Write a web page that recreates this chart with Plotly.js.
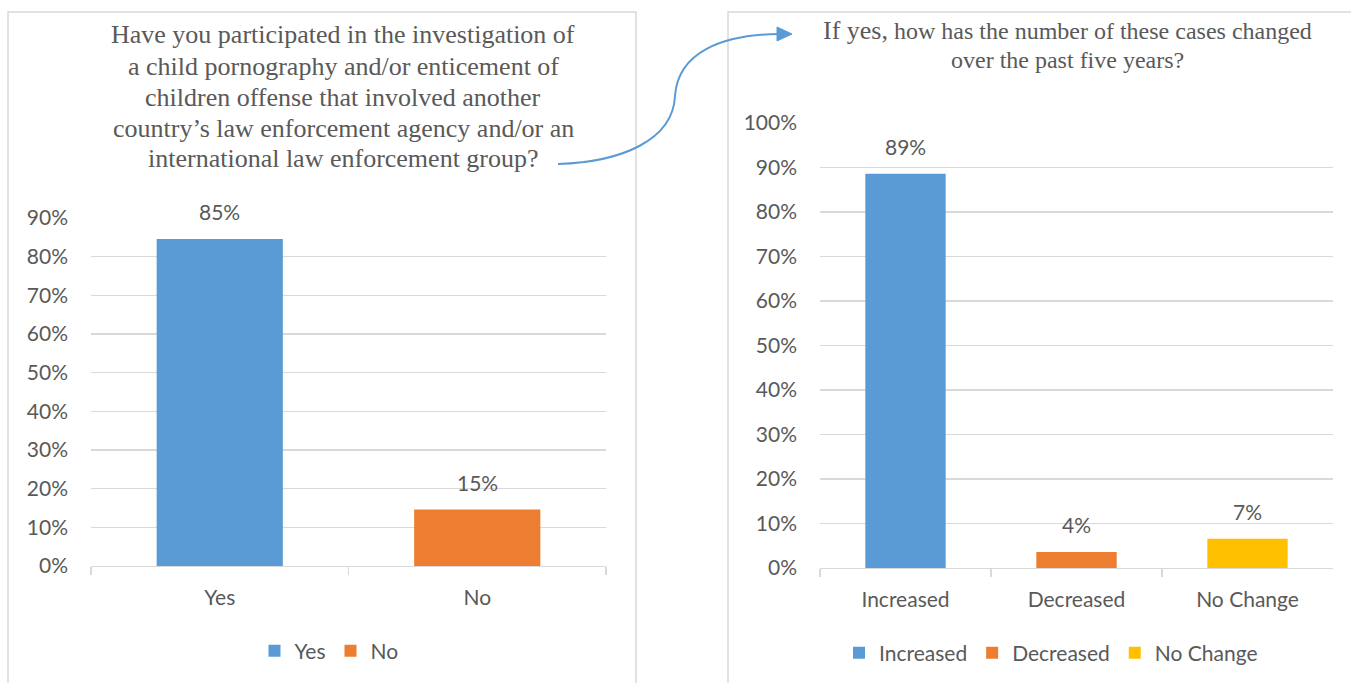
<!DOCTYPE html>
<html>
<head>
<meta charset="utf-8">
<script src="https://cdn.plot.ly/plotly-3.0.1.min.js"></script>
<style>html,body{margin:0;padding:0;background:#fff;}#chart{width:1351px;height:683px;}</style>
</head>
<body>
<div id="chart"></div>
<script>
// ---- data ----
const leftCategories = ["Yes", "No"];
const leftValues = [0.846, 0.146];
const rightCategories = ["Increased", "Decreased", "No Change"];
const rightValues = [0.886, 0.036, 0.066];
const leftColors = ["#5B9BD5", "#ED7D31"];
const rightColors = ["#5B9BD5", "#ED7D31", "#FFC000"];
const leftTitleLines = [
  "Have you participated in the investigation of",
  "a child pornography and/or enticement of",
  "children offense that involved another",
  "country’s law enforcement agency and/or an",
  "international law enforcement group?"
];
const rightTitleLines = [
  "<span style=\"font-size:26px\">If yes,</span> how has the number of these cases changed",
  "over the past five years?"
];

const W = 1351, H = 683;
const px = x => x / W;
const py = y => 1 - y / H;
const gray = "#595959";
const grid = "#D9D9D9";
const tickFont = {family: "Lato, 'Noto Sans', sans-serif", size: 21, color: gray};
const serif = "'Liberation Serif', 'Times New Roman', serif";

const traces = [];
leftCategories.forEach((c, i) => traces.push({
  type: "bar", x: [c], y: [leftValues[i]], name: c, xaxis: "x", yaxis: "y",
  marker: {color: leftColors[i]}, width: 0.49, legend: "legend", hoverinfo: "skip"
}));
rightCategories.forEach((c, i) => traces.push({
  type: "bar", x: [c], y: [rightValues[i]], name: c, xaxis: "x2", yaxis: "y2",
  marker: {color: rightColors[i]}, width: 0.47, legend: "legend2", hoverinfo: "skip"
}));

const annotations = [];
leftCategories.forEach((c, i) => annotations.push({
  xref: "x", yref: "y", x: c, y: leftValues[i], text: Math.round(leftValues[i] * 100) + "%",
  showarrow: false, yanchor: "bottom", yshift: 13, font: tickFont
}));
rightCategories.forEach((c, i) => annotations.push({
  xref: "x2", yref: "y2", x: c, y: rightValues[i], text: Math.round(rightValues[i] * 100) + "%",
  showarrow: false, yanchor: "bottom", yshift: 13, font: tickFont
}));
leftTitleLines.forEach((t, i) => annotations.push({
  xref: "paper", yref: "paper", x: px(343), y: py(35 + i * 31), xanchor: "center", yanchor: "middle",
  text: t, showarrow: false, font: {family: serif, size: 26, color: gray}
}));
rightTitleLines.forEach((t, i) => annotations.push({
  xref: "paper", yref: "paper", x: px(1067), y: py(31 + i * 29), xanchor: "center", yanchor: "middle",
  text: t, showarrow: false, font: {family: serif, size: 24, color: gray}
}));

// curved arrow path (pixel -> paper)
function P(x, y) { return px(x) + "," + py(y); }
const curve = "M" + P(558, 164) + " C" + P(622, 162) + " " + P(673, 140) + " " + P(675, 96) +
  " C" + P(678, 52) + " " + P(722, 35) + " " + P(778, 34);
const head = "M" + P(777, 27) + " L" + P(792, 34) + " L" + P(777, 41) + " Z";

const shapes = [
  {type: "rect", xref: "paper", yref: "paper", x0: px(8), x1: px(636), y0: py(700), y1: py(12),
   line: {color: grid, width: 1.5}, fillcolor: "rgba(0,0,0,0)", layer: "below"},
  {type: "rect", xref: "paper", yref: "paper", x0: px(728), x1: px(1380), y0: py(700), y1: py(12),
   line: {color: grid, width: 1.5}, fillcolor: "rgba(0,0,0,0)", layer: "below"},
  {type: "path", xref: "paper", yref: "paper", path: curve, line: {color: "#5B9BD5", width: 2}},
  {type: "path", xref: "paper", yref: "paper", path: head, line: {color: "#5B9BD5", width: 1}, fillcolor: "#5B9BD5"}
];

const xaxisBase = {
  type: "category", showline: true, linecolor: grid, linewidth: 1.3, ticks: "outside",
  tickson: "boundaries", ticklen: 8, tickcolor: grid, tickwidth: 1.3, showgrid: false,
  tickfont: tickFont, ticklabelstandoff: 12, fixedrange: true, zeroline: false
};
const yaxisBase = {
  showgrid: true, gridcolor: grid, gridwidth: 1.3, tickformat: ".0%", dtick: 0.1,
  tickfont: tickFont, showline: false, zeroline: false, ticks: "", ticklabelstandoff: 22,
  fixedrange: true
};

const layout = {
  width: W, height: H, margin: {l: 0, r: 0, t: 0, b: 0},
  paper_bgcolor: "#fff", plot_bgcolor: "rgba(0,0,0,0)",
  barmode: "overlay", showlegend: true,
  xaxis: Object.assign({}, xaxisBase, {domain: [px(91), px(606)], anchor: "y"}),
  yaxis: Object.assign({}, yaxisBase, {domain: [py(566), py(218)], range: [0, 0.9], anchor: "x"}),
  xaxis2: Object.assign({}, xaxisBase, {domain: [px(820), px(1333)], anchor: "y2"}),
  yaxis2: Object.assign({}, yaxisBase, {domain: [py(568), py(123)], range: [0, 1], anchor: "x2"}),
  legend: {orientation: "h", x: px(329), xanchor: "center", y: py(651), yanchor: "middle",
    font: tickFont, bgcolor: "rgba(0,0,0,0)", itemclick: false, itemdoubleclick: false},
  legend2: {orientation: "h", x: px(1051), xanchor: "center", y: py(653), yanchor: "middle",
    font: tickFont, bgcolor: "rgba(0,0,0,0)", itemclick: false, itemdoubleclick: false},
  annotations: annotations,
  shapes: shapes
};

Plotly.newPlot("chart", traces, layout, {displayModeBar: false, staticPlot: true});
</script>
</body>
</html>
